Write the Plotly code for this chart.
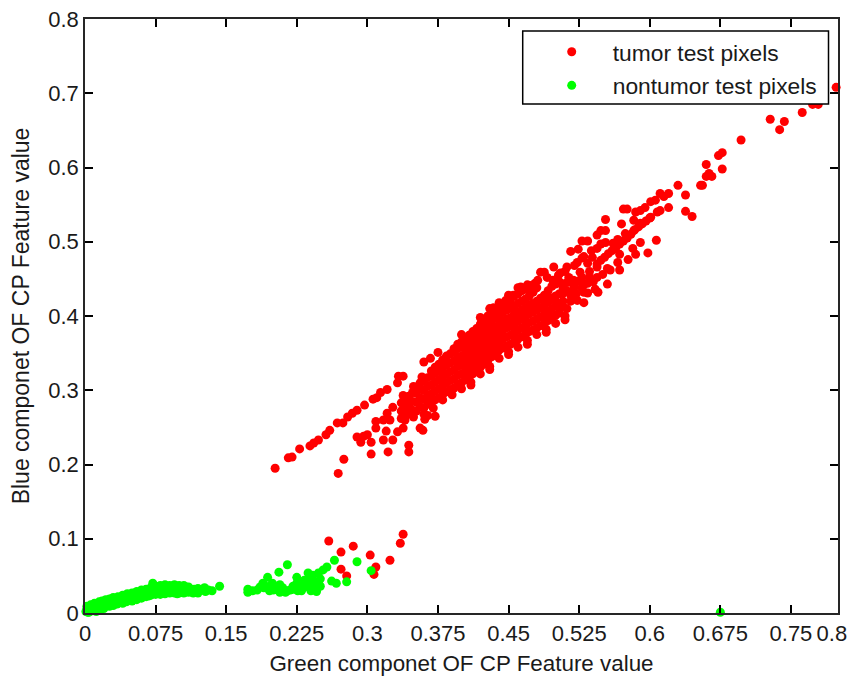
import plotly.graph_objects as go

x_tick_vals = [0, 0.075, 0.15, 0.225, 0.3, 0.375, 0.45, 0.525, 0.6, 0.675, 0.75, 0.8]
x_tick_text = ["0", "0.075", "0.15", "0.225", "0.3", "0.375", "0.45", "0.525", "0.6", "0.675", "0.75", "0.8\u00a0\u00a0"]
y_tick_vals = [0, 0.1, 0.2, 0.3, 0.4, 0.5, 0.6, 0.7, 0.8]
y_tick_text = ["0", "0.1", "0.2", "0.3", "0.4", "0.5", "0.6", "0.7", "0.8"]

tumor_upper_tail = [
    (.798,.708),(.773,.685),(.779,.685),(.762,.674),(.728,.665),(.743,.662),(.738,.651),(.697,.637),
    (.677,.620),(.673,.616),(.660,.604),(.677,.598),(.663,.592),(.660,.588),(.666,.588),(.656,.576),
    (.654,.576),(.630,.576),(.638,.563),(.620,.565),(.611,.565),(.615,.561),(.601,.554),(.606,.556),
    (.638,.541),(.645,.534),(.620,.546),(.611,.542),(.608,.540),(.601,.533),(.595,.546),(.590,.542),
    (.585,.540),(.576,.544),(.572,.544),(.553,.530),(.570,.524),(.583,.529),(.590,.525),(.548,.515),
    (.553,.515),(.544,.509),(.574,.511),(.583,.515),(.566,.503),(.553,.499),(.534,.501),(.528,.501),
    (.607,.502),(.590,.499),(.582,.491),(.598,.485),(.585,.483),(.577,.476),(.568,.483),(.566,.472),
    (.568,.462),(.558,.462),(.555,.443),(.542,.436),(.516,.487),(.524,.490),(.544,.491),(.561,.498),
    (.539,.479),(.528,.478),(.523,.472),(.512,.466),(.498,.466),(.488,.459),(.505,.458),(.534,.471),
    (.544,.466),(.555,.464),(.519,.448),(.526,.459),(.497,.448),(.481,.448),(.473,.441),(.534,.444),
    (.544,.452),(.530,.432),(.519,.435),(.508,.431),(.523,.421),(.508,.412),(.463,.439),(.455,.428),
    (.447,.421),(.434,.411),(.512,.434),(.520,.440),(.528,.452),(.536,.460),(.544,.470),(.552,.479),
    (.560,.488),(.568,.497),(.576,.505),(.584,.516),(.592,.524),(.600,.532),(.534,.431),(.484,.459),
    (.516,.428),(.528,.438),(.514,.452),(.506,.444),(.548,.475),(.556,.484),(.564,.492),(.572,.501),
    (.580,.510),(.588,.520),(.596,.528),(.491,.452),(.478,.444),(.468,.436),
    (.508,.420),(.512,.410),(.516,.420),(.522,.430),(.530,.442),(.540,.446),(.550,.456),(.503,.455),
    (.510,.460),(.520,.468),(.530,.480),(.538,.488),(.548,.497),(.512,.445),(.524,.447),(.536,.452),
]
tumor_lower_branch = [
    (.202,.195),(.216,.209),(.220,.210),(.228,.221),(.239,.225),(.248,.233),(.243,.229),(.256,.240),
    (.260,.246),(.268,.256),(.274,.256),(.279,.264),(.284,.269),(.289,.273),(.297,.280),(.306,.288),
    (.310,.290),(.314,.297),(.321,.301),(.332,.310),(.333,.319),(.338,.319),(.269,.188),(.275,.207),
    (.304,.214),(.322,.217),(.344,.217),(.344,.226),(.289,.237),(.293,.230),(.300,.240),(.304,.230),
    (.296,.238),(.317,.233),(.327,.233),(.320,.245),(.309,.249),(.309,.258),(.317,.260),(.324,.260),
    (.332,.244),(.338,.249),(.356,.249),(.359,.246),(.361,.261),(.372,.265),(.364,.266),(.349,.264),
    (.340,.260),(.321,.269),(.327,.277),(.338,.293),(.349,.305),(.358,.318),(.360,.338),(.367,.343),
    (.375,.351),(.400,.375),
]
tumor_core = [
    (.336,.262),(.336,.272),(.336,.283),(.344,.268),(.344,.279),(.344,.292),
    (.352,.272),(.352,.284),(.352,.296),(.352,.304),(.360,.276),(.360,.288),(.360,.300),(.360,.312),
    (.368,.284),(.368,.295),(.368,.307),(.368,.319),(.368,.326),(.376,.290),(.376,.302),(.376,.314),
    (.376,.326),(.376,.335),(.384,.298),(.384,.310),(.384,.322),(.384,.334),(.384,.346),
    (.392,.303),(.392,.315),(.392,.327),(.392,.339),(.392,.351),(.392,.356),
    (.400,.310),(.400,.322),(.400,.334),(.400,.346),(.400,.358),(.400,.365),
    (.408,.318),(.408,.330),(.408,.342),(.408,.354),(.408,.366),(.408,.374),
    (.416,.327),(.416,.339),(.416,.351),(.416,.363),(.416,.375),(.416,.383),
    (.424,.335),(.424,.347),(.424,.359),(.424,.371),(.424,.383),(.424,.395),
    (.432,.345),(.432,.357),(.432,.369),(.432,.381),(.432,.393),(.432,.404),
    (.440,.354),(.440,.365),(.440,.376),(.440,.388),(.440,.400),(.440,.411),
    (.448,.360),(.448,.372),(.448,.384),(.448,.396),(.448,.408),(.448,.418),
    (.456,.365),(.456,.377),(.456,.389),(.456,.401),(.456,.413),(.456,.427),
    (.464,.372),(.464,.384),(.464,.396),(.464,.408),(.464,.420),(.464,.434),
    (.472,.379),(.472,.391),(.472,.403),(.472,.415),(.472,.427),
    (.480,.384),(.480,.396),(.480,.408),(.480,.420),(.480,.438),
    (.488,.390),(.488,.402),(.488,.414),(.488,.428),
    (.496,.398),(.496,.410),(.496,.424),(.496,.440),
    (.504,.404),(.504,.416),(.504,.430),(.504,.446),
]
tumor_core_between = [
    (.340,.267),(.340,.277),(.340,.287),(.348,.273),(.348,.285),(.348,.297),
    (.356,.278),(.356,.290),(.356,.302),(.356,.310),(.364,.281),(.364,.293),(.364,.305),(.364,.317),
    (.372,.287),(.372,.299),(.372,.311),(.372,.323),(.372,.331),(.380,.294),(.380,.306),(.380,.318),
    (.380,.330),(.380,.341),(.388,.301),(.388,.313),(.388,.325),(.388,.337),(.388,.349),
    (.396,.308),(.396,.320),(.396,.332),(.396,.344),(.396,.356),(.396,.362),
    (.404,.314),(.404,.326),(.404,.338),(.404,.350),(.404,.362),(.404,.370),
    (.412,.322),(.412,.334),(.412,.346),(.412,.358),(.412,.370),(.412,.379),
    (.420,.331),(.420,.343),(.420,.355),(.420,.367),(.420,.379),(.420,.389),
    (.428,.340),(.428,.352),(.428,.364),(.428,.376),(.428,.388),(.428,.400),
    (.436,.350),(.436,.361),(.436,.373),(.436,.385),(.436,.397),(.436,.408),
    (.444,.357),(.444,.369),(.444,.381),(.444,.393),(.444,.405),(.444,.415),
    (.452,.362),(.452,.374),(.452,.386),(.452,.398),(.452,.410),(.452,.422),
    (.460,.369),(.460,.381),(.460,.393),(.460,.405),(.460,.417),(.460,.430),
    (.468,.375),(.468,.387),(.468,.399),(.468,.411),(.468,.423),
    (.476,.381),(.476,.393),(.476,.405),(.476,.417),(.476,.432),
    (.484,.387),(.484,.399),(.484,.411),(.484,.424),
    (.492,.394),(.492,.406),(.492,.419),(.492,.434),
    (.500,.401),(.500,.413),(.500,.427),(.500,.443),
]
tumor_core_edges = [
    (.360,.268),(.370,.276),(.380,.287),(.390,.294),(.400,.302),(.410,.311),(.420,.322),(.430,.332),
    (.440,.343),(.450,.352),(.460,.358),(.470,.367),(.480,.375),(.490,.382),(.500,.390),(.510,.400),
    (.420,.398),(.430,.410),(.440,.418),(.450,.428),(.460,.438),(.470,.442),
    (.410,.307),(.430,.328),(.450,.348),(.470,.362),(.490,.378),(.510,.395),(.530,.418),(.545,.432),
    (.404,.344),(.416,.357),(.428,.370),(.440,.382),(.452,.392),(.464,.402),(.476,.411),(.488,.420),
    (.396,.338),(.408,.348),(.420,.361),(.432,.375),(.444,.387),(.456,.395),(.468,.405),(.480,.414),
    (.492,.426),(.500,.420),(.508,.437),(.518,.444),
]
tumor_bottom = [
    (.259,.097),(.272,.082),(.285,.090),(.303,.078),(.272,.059),(.278,.050),(.309,.062),(.307,.052),
    (.324,.071),(.335,.094),(.338,.106),
]
nontumor_right = [
    (.265,.071),(.289,.069),(.304,.057),(.257,.062),(.253,.058),(.278,.042),(.262,.043),(.267,.040),
    (.215,.065),(.206,.055),(.194,.048),(.189,.040),(.173,.032),(.173,.028),(.178,.030),(.183,.031),
    (.186,.035),(.192,.036),(.199,.040),(.207,.038),(.207,.028),(.213,.028),(.202,.035),(.196,.030),
    (.225,.048),(.225,.040),(.226,.030),(.218,.031),(.221,.036),(.237,.054),(.242,.051),(.237,.044),
    (.239,.034),(.246,.034),(.248,.040),(.248,.054),(.232,.034),(.235,.038),(.243,.043),(.190,.034),
    (.200,.031),(.230,.030),(.240,.030),(.246,.029),(.250,.036),(.250,.046),(.210,.034),(.215,.030),
    (.222,.032),(.228,.036),(.233,.044),(.241,.037),
]
nontumor_left = [
    (.001,.002),(.002,.005),(.003,.001),(.005,.004),(.006,.007),(.008,.003),(.009,.008),(.012,.006),
    (.013,.010),(.016,.008),(.017,.013),(.020,.011),(.021,.015),(.024,.012),(.025,.017),(.028,.014),
    (.029,.018),(.032,.016),(.033,.019),(.036,.017),(.037,.021),(.040,.018),(.041,.022),(.044,.020),
    (.045,.024),(.048,.021),(.049,.025),(.052,.023),(.053,.026),(.056,.024),(.057,.027),(.060,.025),
    (.061,.029),(.064,.026),(.065,.030),(.068,.026),(.069,.031),(.072,.027),(.073,.032),(.072,.040),
    (.076,.028),(.077,.033),(.080,.029),(.081,.034),(.084,.029),(.085,.035),(.088,.030),(.089,.034),
    (.092,.030),(.093,.035),(.096,.030),(.097,.034),(.100,.031),(.101,.034),(.105,.030),(.106,.033),
    (.110,.031),(.111,.033),(.115,.029),(.116,.032),(.122,.030),(.125,.032),(.128,.029),(.131,.031),
    (.135,.030),(.143,.036),(.002,.009),(.006,.011),(.010,.013),(.004,.001),(.012,.002),(.016,.004),
    (.020,.006),(.026,.009),(.030,.010),(.040,.013),(.050,.016),(.060,.020),(.070,.024),(.080,.025),
    (.090,.027),(.100,.027),(.110,.028),(.080,.037),(.090,.037),(.100,.037),(.110,.035),
    (.034,.012),(.038,.015),(.044,.015),(.055,.018),(.065,.022),(.075,.025),(.085,.026),(.095,.027),
    (.105,.027),(.115,.027),(.120,.027),(.070,.034),(.075,.036),(.085,.038),(.095,.038),(.105,.037),
    (.015,.015),(.022,.018),(.030,.021),(.040,.024),(.050,.027),(.060,.031),(.120,.033),(.127,.034),
    (.035,.022),(.045,.026),(.055,.029),(.065,.032),(.078,.035),(.026,.019),(.018,.016),(.010,.010),
    (.047,.019),(.052,.019),(.058,.022),(.068,.023),(.098,.026),(.118,.030),
]
nontumor_outlier = [(.675,.001)]

tumor = tumor_core + tumor_core_between + tumor_core_edges + tumor_lower_branch + tumor_upper_tail + tumor_bottom
nontumor = nontumor_left + nontumor_right + nontumor_outlier

def label(s):
    return f'<span style="font-size:22.8px">{s}</span>'

fig = go.Figure()
fig.add_trace(go.Scatter(
    x=[p[0] for p in tumor], y=[p[1] for p in tumor], mode="markers",
    name=label("tumor test pixels"), marker=dict(color="#ff0000", size=9), cliponaxis=False))
fig.add_trace(go.Scatter(
    x=[p[0] for p in nontumor], y=[p[1] for p in nontumor], mode="markers",
    name=label("nontumor test pixels"), marker=dict(color="#00ff00", size=9), cliponaxis=False))

FONT = "Liberation Sans, Arial, sans-serif"
axis_style = dict(
    showgrid=False, zeroline=False, showline=True, linecolor="#262626", linewidth=1.5,
    mirror="ticks", ticks="inside", ticklen=8, tickwidth=1.5, tickcolor="#000000",
    ticklabeloverflow="allow",
    tickfont=dict(family=FONT, size=22, color="#1a1a1a"),
)
fig.update_xaxes(range=[0, 0.8], tickmode="array", tickvals=x_tick_vals, ticktext=x_tick_text,
                 title_text="Green componet OF CP Feature value", title_standoff=10,
                 title_font=dict(family=FONT, size=22.4, color="#1a1a1a"), **axis_style)
fig.update_yaxes(range=[0, 0.8], tickmode="array", tickvals=y_tick_vals, ticktext=y_tick_text,
                 title_text="Blue componet OF CP Feature value", title_standoff=17,
                 title_font=dict(family=FONT, size=23, color="#1a1a1a"), **axis_style)
# page body has an 8px margin, so the figure sits 8px right/down of the window origin
fig.update_layout(
    width=849, height=669, margin=dict(l=77, r=18.5, t=11, b=64, autoexpand=False),
    paper_bgcolor="white", plot_bgcolor="white", showlegend=True,
    legend=dict(x=(531-85)/753.5, y=1-(30-19)/594, xanchor="left", yanchor="top",
                bgcolor="rgba(0,0,0,0)", borderwidth=0,
                itemwidth=72, entrywidthmode="pixels", entrywidth=214,
                font=dict(family=FONT, size=23.5, color="#1a1a1a")),
    shapes=[dict(type="rect", xref="paper", yref="paper", layer="above",
                 x0=(523-85)/753.5, x1=(829-85)/753.5, y0=1-(104-19)/594, y1=1-(31-19)/594,
                 line=dict(color="#000000", width=1.5), fillcolor="white")],
)
fig.write_html("out.html")
